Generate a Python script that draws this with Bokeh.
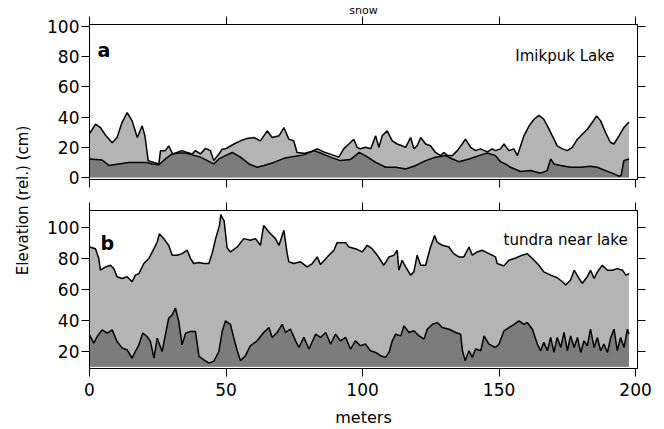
import math
from bokeh.plotting import figure
from bokeh.models import Label, LinearAxis, FixedTicker, Range1d, CustomJSTickFormatter
from bokeh.layouts import row, column
from bokeh.embed import file_html
from bokeh.resources import INLINE

# ---------------- data (distance in m, elevation in cm) ----------------
# (a) Imikpuk Lake: snow surface and ground/ice surface
a_snow_m = [0, 2.2, 4, 5.9, 8.3, 10.1, 11.9, 13.8, 15.6, 17.5, 19.3, 20.3, 21.5, 23.6, 25.4, 26,
            27.8, 29, 30.5, 31.5, 33.9, 35.2, 37.6, 38.8, 40.6, 42.5, 44.3, 45.5, 47.4, 48.6, 49.8,
            52.9, 55.3, 57.7, 60.2, 62.6, 65.1, 66.9, 69.4, 71.2, 73.0, 74.8, 76, 78.5, 80.9, 83.4,
            85.8, 88.2, 91.3, 93.1, 95, 96.8, 98, 99.2, 101.1, 103, 104.8, 106, 107.2, 109, 110.9,
            112.7, 114.5, 115.8, 117.6, 118.8, 120, 121.3, 123.1, 124.9, 126.7, 128.6, 129.8, 131,
            132.9, 134.7, 136.5, 137.7, 139.6, 141.4, 143.2, 145.7, 147.5, 148.7, 150.5, 151.8,
            153.6, 155.4, 156.7, 157.9, 159.1, 161, 162.8, 164.6, 166.4, 168.3, 170.1, 171.3, 173.2,
            175, 176.8, 178.7, 180.5, 182.3, 184.1, 185.7, 187.2, 189, 190.8, 192.1, 193.9, 195.7,
            197.6]
a_snow_cm = [29, 35.3, 33, 28, 23, 26.5, 36.4, 43, 37.5, 26.5, 34.2, 27.6, 11.2, 10, 9, 17.8,
             17.8, 21, 15.6, 16.2, 17.8, 17, 15.6, 17.8, 15.6, 19.3, 17.8, 11.2, 15.6, 18.8, 19,
             22.2, 24.3, 25.9, 26.5, 24.3, 30.9, 26.5, 27.6, 33.1, 25.4, 24.3, 16.6, 16, 17, 19,
             17, 15.5, 13.5, 19, 22.2, 25.4, 20, 19, 20, 19, 27.6, 20, 27.6, 30.9, 24.3,
             22.2, 21, 20, 26.5, 19, 21, 26.5, 22.2, 21, 16.6, 14.5, 16.6, 14.8,
             14.5, 17.8, 22.2, 25.4, 20, 17.8, 19, 17, 19, 17.8, 19, 22.2,
             17.8, 19, 14.5, 21, 27.6, 34.2, 38.6, 41.2, 38.6, 32, 25.4, 21, 19,
             17.8, 20, 25.4, 28.7, 32, 36.4, 40.8, 37.5, 29.8, 23.2, 22.2, 27.6, 33.1,
             36.8]

a_ground_m = [0, 4.6, 7.1, 10.7, 14.4, 18, 21.1, 22.9, 25.4, 27.8, 30.3, 32.7, 35.2, 37.6, 40.6,
              43, 45.5, 47.4, 49.8, 52.3, 55.3, 58.4, 61.4, 63.9, 67.5, 71.2, 74.8, 78.5, 82.2,
              84.6, 88.2, 91.9, 95.6, 98.8, 101.5, 104.8, 108.5, 112.2, 115.8, 119.5, 123.1,
              126.7, 130.4, 132.9, 135.3, 139, 142.6, 145.7, 148.7, 150.5, 152.4, 154.2, 157.9,
              161.5, 165.2, 167.6, 168.9, 170.1, 172.6, 176.2, 179.9, 183.5, 185.9, 189, 192.1,
              193.9, 194.7, 195.7, 197.6]
a_ground_cm = [12.3, 11.6, 8, 9, 10, 10, 10, 9, 8.5, 12.3, 15.6, 16.2, 16.2, 15, 13.5,
               11.4, 9, 12.3, 14.5, 16.6, 13.5, 9, 6.8, 8, 10, 12.7, 14, 15, 17.8,
               16.2, 13.5, 11.2, 12, 16.6, 14, 10, 6.8, 6.8, 5.7, 8, 11.2,
               13.4, 14.5, 12.3, 10.5, 12.3, 14.5, 16.2, 14.5, 10.5, 8.9, 6.8, 4,
               4.6, 2.9, 4.6, 12.3, 9, 7.9, 6.8, 6.8, 7.5, 6.8, 4.6, 2.4,
               0.9, 1.3, 11.2, 12.3]

# (b) tundra near lake: snow surface and ground surface
b_snow_m = [0, 2.2, 3.4, 4, 5.9, 7.7, 8.9, 10.1, 11.9, 13.8, 15.6, 16.8, 18.1, 19.9, 21.7, 23.6,
            24.8, 25.6, 27.2, 29, 30.3, 32.1, 33.9, 35.8, 37, 38.2, 40.1, 41.9, 43.7, 44.9, 46.2,
            47.6, 48.1, 48.6, 49.3, 50.4, 51.6, 54.1, 56.5, 58.9, 60.8, 62.6, 63.8, 65.7, 68.1,
            69.4, 71.2, 72.4, 73, 74.8, 77.3, 79.7, 81.6, 83.4, 84.6, 87.1, 89.5, 90.7, 93.8, 95,
            97.4, 99.9, 101.7, 103.5, 105.4, 107.8, 109.7, 111.5, 112.7, 113.3, 114.5, 115.8,
            117.6, 118.8, 120, 121.3, 123.1, 124.9, 126.4, 127.3, 129.2, 131.6, 133.4, 135.3,
            137.1, 139, 140.2, 142, 143.8, 146.3, 148.7, 149.3, 151.8, 153.6, 156.1, 158.5, 160.3,
            162.2, 164.6, 166.4, 168.9, 171.3, 173.2, 174.4, 176.2, 177.5, 179.3, 180.5, 182.3,
            183.5, 184.8, 186, 187.8, 189.7, 191.5, 193.3, 195.2, 196.4, 197.6]
b_snow_cm = [87.5, 86.4, 80, 72.5, 74.6, 75.7, 73.5, 68.2, 67.1, 68.2, 65, 69.3, 70.3, 76.8, 80, 86.4,
             90.7, 96.1, 92.9, 88.6, 82.2, 82.2, 83.2, 85.4, 80, 76.8, 77.4, 76.8, 76.8, 83.2, 92.9,
             101.5, 108.5, 106.5, 104.5, 87, 84.3, 87.5, 92.9, 91.8, 92.9, 88.6, 101.5, 97.2, 92.9,
             88.6, 98.3, 83.2, 77.9, 76.8, 77.9, 74.6, 76.8, 81.1, 76.1, 81.1, 85.4, 90.3, 90.3, 87.5,
             86.4, 84.3, 88.6, 86.4, 82.2, 75.7, 81.1, 82.2, 85.4, 72.5, 78.9, 74.6,
             69.3, 71.4, 82.2, 75.7, 75.7, 87.5, 95, 90.7, 88.6, 87.5, 83.2, 81.1,
             81.1, 87.5, 82.2, 84.3, 85.4, 83.2, 81.1, 76.8, 75.3, 78.9, 80.4, 82.2, 83.2,
             80, 75.7, 71.4, 69.3, 67.6, 65, 62.9, 66.1, 72.5, 67.1, 64, 68.2,
             72.5, 67.1, 71.4, 75.7, 72.5, 72.5, 73.5, 72.5, 69.3, 70.3]

b_ground_m = [0, 1.6, 2.8, 4.6, 6.5, 8.3, 10.1, 12, 13.8, 15.6, 16.8, 18.1, 19.5, 21.1, 22.3, 23.6,
              24.8, 26.6, 27.8, 29, 30.3, 31.5, 32.7, 33.9, 35.2, 37, 38.8, 40.1, 41.9, 43.7, 45.5,
              47.4, 48.6, 49.8, 51.6, 52.8, 54.1, 55.3, 57.1, 58.9, 61.4, 63.8, 65.7, 66.9, 68.7,
              70.6, 71.8, 73.6, 75.5, 76.7, 78.5, 80.4, 82.8, 84.6, 86.5, 88.3, 90.1, 91.9, 93.8,
              95.6, 97.4, 99.2, 101.1, 102.9, 104.8, 106.6, 108.4, 109.7, 110.9, 112.1, 114, 115.2,
              117, 118.8, 120.7, 122.5, 123.7, 125.6, 127.4, 129.2, 131.7, 134.1, 135.9, 136.6,
              137.6, 139, 140.2, 141.4, 143.3, 144.5, 146.3, 148.7, 150, 151.8, 153.6, 155.5,
              157.3, 159.1, 160.3, 162.2, 164, 165.2, 166.4, 167.7, 168.9, 170.1, 171.3, 172.6,
              173.8, 175, 176.2, 177.5, 178.7, 179.9, 181.1, 182.3, 183.5, 184.8, 186, 187.2,
              188.4, 189.7, 190.9, 192.1, 193.3, 194.5, 195.8, 197, 197.6]
b_ground_cm = [30.7, 25.3, 29.6, 33.9, 31.8, 33.9, 26.4, 22.1, 21, 15.6, 19.9, 24.2, 31.8, 29.6, 26.4, 15.6,
               28.5, 19.9, 30.7, 41.4, 43.6, 47.9, 39.3, 24.2, 31.8, 32.9, 32.9, 16.7, 14.5, 12.4, 13.5,
               19.9, 32.9, 39.7, 37.5, 29, 20.4, 14, 17.2, 23.6, 26.8, 32.2, 35.4, 29, 32.2,
               37.5, 32.2, 34.3, 26.8, 22.5, 29, 21.5, 31.1, 29, 32.2, 24.7, 31.1, 26.8, 29,
               21.5, 26.8, 23.6, 24.7, 20.4, 19.3, 17.2, 16.1, 19.3, 26.8, 31.1, 30, 36.5,
               32.2, 33.3, 30, 27.9, 34.3, 37.5, 38.6, 35.4, 34.3, 32.2, 31.1, 20.4,
               13.9, 20.4, 16.1, 21.5, 20.4, 30, 24.7, 22.5, 24.7, 33.3, 35.4, 37.5,
               39.7, 37.5, 38.6, 34.3, 24.7, 20.4, 25.8, 20.4, 29, 19.3, 29, 22.5,
               32.2, 20.4, 30, 22.5, 29, 19.3, 26.8, 23.6, 34.3, 22.5, 29, 20.4,
               24.7, 19.3, 29, 34.3, 20.4, 29, 22.5, 34.3, 31.1]

x_ticks = [0, 50, 100, 150, 200]
a_y_ticks = [0, 20, 40, 60, 80, 100]
b_y_ticks = [20, 40, 60, 80, 100]

# ---------------- styling ----------------
FONT = "DejaVu Sans"
LIGHT = "#b4b4b4"
DARK = "#7c7c7c"


def style_axis(ax, labels=True):
    ax.axis_line_color = "black"
    ax.major_tick_line_color = "black"
    ax.major_tick_in = 0
    ax.major_tick_out = 8
    ax.minor_tick_line_color = None
    ax.major_label_text_font = FONT
    ax.major_label_text_color = "black"
    ax.major_label_text_font_size = "17px"
    if not labels:
        ax.formatter = CustomJSTickFormatter(code="return ''")
        ax.major_label_text_font_size = "1px"
        ax.major_label_standoff = 0


def panel(height, y_rng, y_ticks, top, bottom, x_labels):
    p = figure(width=624, height=height, x_range=Range1d(0, 200.7), y_range=Range1d(*y_rng),
               output_backend="svg", toolbar_location=None,
               x_axis_location=None, y_axis_location=None,
               min_border_left=49, min_border_right=27,
               min_border_top=top, min_border_bottom=bottom,
               background_fill_color="white", border_fill_color="white")
    p.outline_line_color = "black"
    p.outline_line_width = 1
    p.grid.visible = False

    left = LinearAxis(ticker=FixedTicker(ticks=y_ticks))
    style_axis(left)
    left.major_label_standoff = 2
    p.add_layout(left, "left")

    right = LinearAxis(ticker=FixedTicker(ticks=y_ticks))
    style_axis(right, labels=False)
    p.add_layout(right, "right")

    above = LinearAxis(ticker=FixedTicker(ticks=x_ticks))
    style_axis(above, labels=False)
    p.add_layout(above, "above")

    below = LinearAxis(ticker=FixedTicker(ticks=x_ticks))
    style_axis(below, labels=x_labels)
    p.add_layout(below, "below")
    return p, above, below


def text(p, x, y, s, size, **kw):
    p.add_layout(Label(x=x, y=y, text=s, text_font=FONT, text_font_size=size,
                       text_color="black", text_baseline="alphabetic", **kw))


# panel a
pa, ta, _ = panel(195, (-1.3, 101.3), a_y_ticks, 23, 16, False)
pa.varea(x=a_snow_m, y1=0, y2=a_snow_cm, fill_color=LIGHT)
pa.varea(x=a_ground_m, y1=0, y2=a_ground_cm, fill_color=DARK)
pa.line(a_snow_m, a_snow_cm, line_color="black", line_width=1.5)
pa.line(a_ground_m, a_ground_cm, line_color="black", line_width=1.5)
text(pa, 2.9, 84.5, "a", "19px", text_font_style="bold")
text(pa, 192.3, 80.3, "Imikpuk Lake", "15px", text_align="right")
ta.axis_label = "snow"
ta.axis_label_text_font = FONT
ta.axis_label_text_font_size = "11px"
ta.axis_label_text_font_style = "normal"
ta.axis_label_text_color = "black"
ta.axis_label_standoff = 0

# panel b
pb, _, xb = panel(234, (8.9, 111.1), b_y_ticks, 15, 60, True)
pb.varea(x=b_snow_m, y1=10, y2=b_snow_cm, fill_color=LIGHT)
pb.varea(x=b_ground_m, y1=10, y2=b_ground_cm, fill_color=DARK)
pb.line(b_snow_m, b_snow_cm, line_color="black", line_width=1.5)
pb.line(b_ground_m, b_ground_cm, line_color="black", line_width=1.5)
xb.axis_label = "meters"
xb.axis_label_text_font = FONT
xb.axis_label_text_font_size = "16px"
xb.axis_label_text_font_style = "normal"
xb.axis_label_text_color = "black"
xb.major_label_standoff = 6
xb.axis_label_standoff = 9
text(pb, 4.0, 89.9, "b", "19px", text_font_style="bold")
text(pb, 197.1, 91.8, "tundra near lake", "15px", text_align="right")

# shared y-axis title spanning both panels
lab = figure(width=40, height=429, x_range=Range1d(0, 40), y_range=Range1d(0, 429),
             output_backend="svg", toolbar_location=None,
             x_axis_location=None, y_axis_location=None, min_border=0)
lab.outline_line_color = None
lab.grid.visible = False
lab.add_layout(Label(x=22, y=229, text="Elevation (rel.) (cm)", angle=math.pi / 2,
                     text_font=FONT, text_font_size="15px", text_color="black",
                     text_align="center", text_baseline="middle"))

layout = row(lab, column(pa, pb))
open("out.html", "w").write(file_html(layout, INLINE))
